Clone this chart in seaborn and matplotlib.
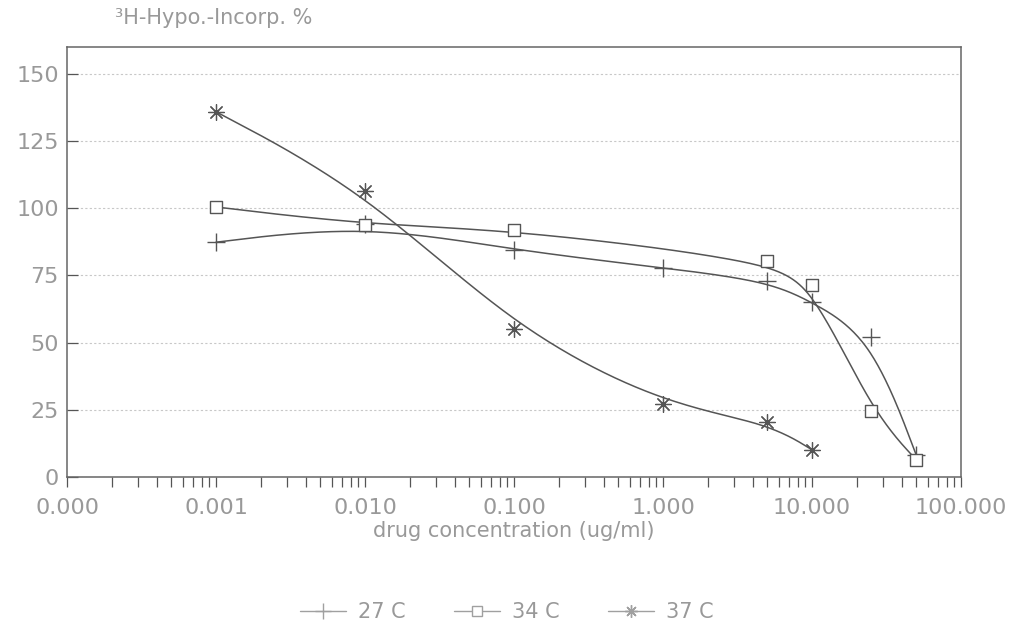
import numpy as np
import pandas as pd
import matplotlib
matplotlib.use("Agg")
import matplotlib.pyplot as plt
import seaborn as sns
from matplotlib.lines import Line2D
from matplotlib.ticker import FixedLocator, FixedFormatter, LogLocator, NullFormatter

# data
conc_27 = [0.001, 0.01, 0.1, 1, 5, 10, 25, 50]
incorp_27 = [87.3, 94.0, 84.3, 77.8, 72.9, 65.1, 52.0, 8.2]

conc_34 = [0.001, 0.01, 0.1, 5, 10, 25, 50]
incorp_34 = [100.4, 93.8, 92.0, 80.3, 71.3, 24.5, 6.4]

conc_37 = [0.001, 0.01, 0.1, 1, 5, 10]
incorp_37 = [135.8, 106.5, 55.0, 27.0, 20.3, 10.1]

series_names = ["27 C", "34 C", "37 C"]
x_ticks = [0.0001, 0.001, 0.01, 0.1, 1, 10, 100]
x_ticklabels = ["0.000", "0.001", "0.010", "0.100", "1.000", "10.000", "100.000"]
y_ticks = [0, 25, 50, 75, 100, 125, 150]
y_ticklabels = ["0", "25", "50", "75", "100", "125", "150"]


def bspline(xs, ys, n=40):
    # smooth curve: clamped uniform cubic B-spline, data points as control points (log x)
    P = np.column_stack([np.log10(xs), np.asarray(ys, float)])
    Q = np.vstack([P[0], P[0], P, P[-1], P[-1]])
    t = np.linspace(0, 1, n)[:, None]
    b = np.hstack([(1 - t) ** 3, 3 * t ** 3 - 6 * t ** 2 + 4,
                   -3 * t ** 3 + 3 * t ** 2 + 3 * t + 1, t ** 3]) / 6
    out = np.vstack([b @ Q[i:i + 4] for i in range(len(Q) - 3)])
    return 10 ** out[:, 0], out[:, 1]


series = [(conc_27, incorp_27), (conc_34, incorp_34), (conc_37, incorp_37)]

curves = []
points = []
for name, (xs, ys) in zip(series_names, series):
    cx, cy = bspline(xs, ys)
    curves.append(pd.DataFrame({"x": cx, "y": cy, "series": name}))
    points.append(pd.DataFrame({"x": xs, "y": ys, "series": name}))
curve_df = pd.concat(curves, ignore_index=True)
point_df = pd.concat(points, ignore_index=True)

sns.set_theme(style="white")
plt.rcParams["font.family"] = ["DejaVu Sans"]

line_col = "#555555"
text_col = "#999999"

fig = plt.figure(figsize=(10.14, 6.25), dpi=100)
ax = fig.add_axes([0.0661, 0.2368, 0.8817, 0.6885])

sns.lineplot(data=curve_df, x="x", y="y", units="series", estimator=None, sort=False,
             color=line_col, linewidth=1.1, legend=False, ax=ax)

marker_styles = {
    "27 C": dict(marker="+", s=150, color=line_col, linewidths=1.0),
    "34 C": dict(marker="s", s=75, facecolors="white", edgecolors=line_col, linewidths=1.0),
    "37 C": dict(marker=(8, 2, 0), s=130, color=line_col, linewidths=0.9),
}
for name in series_names:
    sub = point_df[point_df["series"] == name]
    sns.scatterplot(data=sub, x="x", y="y", ax=ax, legend=False, zorder=3, **marker_styles[name])

ax.set_xscale("log")
ax.set_xlim(0.0001, 100)
ax.set_ylim(0, 160)

ax.xaxis.set_major_locator(FixedLocator(x_ticks))
ax.xaxis.set_major_formatter(FixedFormatter(x_ticklabels))
ax.xaxis.set_minor_locator(LogLocator(base=10, subs=np.arange(2, 10)))
ax.xaxis.set_minor_formatter(NullFormatter())
ax.yaxis.set_major_locator(FixedLocator(y_ticks))
ax.yaxis.set_major_formatter(FixedFormatter(y_ticklabels))

ax.tick_params(axis="x", which="both", direction="out", length=7, width=0.9,
               color=line_col, labelsize=16, labelcolor=text_col, pad=8, bottom=True)
ax.tick_params(axis="y", which="major", direction="in", length=8, width=0.9,
               color=line_col, labelsize=16, labelcolor=text_col, pad=6, left=True)

ax.grid(axis="y", linestyle=(0, (2, 2)), color="#c8c8c8", linewidth=0.8)
ax.grid(axis="x", visible=False)
for side in ["top", "bottom", "left", "right"]:
    ax.spines[side].set_visible(True)
    ax.spines[side].set_color("#666666")
    ax.spines[side].set_linewidth(1.1)

ax.set_xlabel("drug concentration (ug/ml)", fontsize=15, color=text_col, labelpad=2)
ax.set_ylabel("")

fig.text(0.113, 0.971, "³H-Hypo.-Incorp. %", fontsize=15, color=text_col, ha="left", va="center")

handles = [
    Line2D([], [], color="#a0a0a0", linewidth=1.0, marker="+", markersize=12),
    Line2D([], [], color="#a0a0a0", linewidth=1.0, marker="s", markersize=7,
           markerfacecolor="white"),
    Line2D([], [], color="#a0a0a0", linewidth=1.0, marker=(8, 2, 0), markersize=9),
]
leg = fig.legend(handles, series_names, loc="center", bbox_to_anchor=(0.5, 0.02), ncol=3,
                 frameon=False, fontsize=15, handlelength=2.2, handletextpad=0.6,
                 columnspacing=2.3)
for t in leg.get_texts():
    t.set_color(text_col)

fig.savefig("out.png", dpi=100, facecolor="white")
